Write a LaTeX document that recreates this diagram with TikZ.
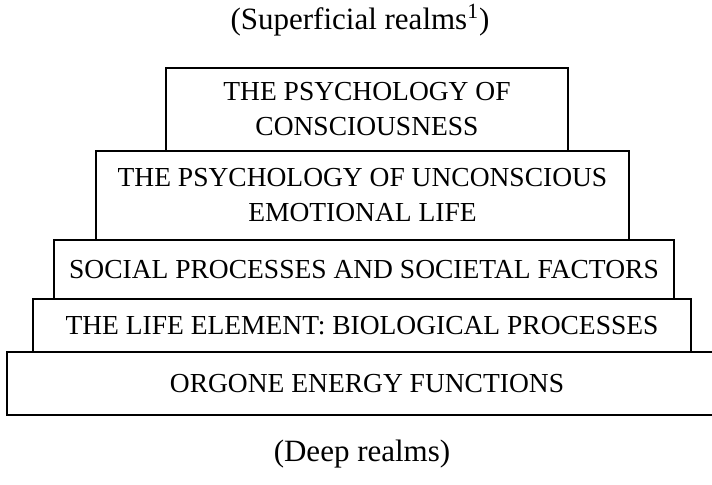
\documentclass[tikz,border=0pt]{standalone}
\usepackage{fontspec}
\setmainfont{Liberation Serif}
\usetikzlibrary{positioning}
\tikzstyle{layer} = [rectangle, draw=black, line width=1pt, outer sep=0pt, align=center, font=\fontsize{13.75}{17.5}\selectfont]
\tikzstyle{realm} = [font=\fontsize{15.5}{18}\selectfont]

\begin{document}
\begin{tikzpicture}
\useasboundingbox (0,0) rectangle (356pt,-242pt);

\node (orgone) [layer, minimum width=360pt, minimum height=31.5pt] at (183.5pt,-191.75pt) {ORGONE ENERGY FUNCTIONS};
\node (life) [layer, minimum width=329pt, minimum height=26.5pt, above=0pt of orgone, xshift=-2.5pt] {THE LIFE ELEMENT: BIOLOGICAL PROCESSES};
\node (social) [layer, minimum width=310pt, minimum height=29.5pt, above=0pt of life, xshift=1pt] {SOCIAL PROCESSES AND SOCIETAL FACTORS};
\node (unconscious) [layer, minimum width=266.5pt, minimum height=44.5pt, above=0pt of social, xshift=-0.75pt] {THE PSYCHOLOGY OF UNCONSCIOUS\\EMOTIONAL LIFE};
\node (conscious) [layer, minimum width=201pt, minimum height=41.5pt, above=0pt of unconscious, xshift=2.25pt] {THE PSYCHOLOGY OF\\CONSCIOUSNESS};

\node (superficial) [realm] at (180pt,-10pt) {(Superficial realms\textsuperscript{1})};
\node (deep) [realm] at (181pt,-227pt) {(Deep realms)};
\end{tikzpicture}
\end{document}
